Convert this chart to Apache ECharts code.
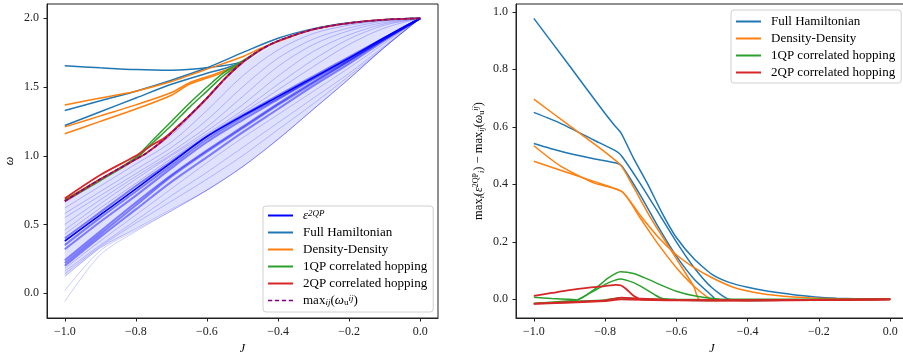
<!DOCTYPE html>
<html>
<head>
<meta charset="utf-8">
<script src="https://cdn.jsdelivr.net/npm/echarts@6.0.0/dist/echarts.min.js"></script>
<style>
  html, body { margin: 0; padding: 0; background: #fff; }
  #main { width: 903px; height: 354px; }
</style>
</head>
<body>
<div id="main"></div>
<script>
// J grid used by the two-particle continuum curves
var J = [-1, -0.9, -0.8, -0.7, -0.6, -0.5, -0.4, -0.3, -0.2, -0.1, 0];

// eps^2QP continuum (top envelope, upper fan, dense band, lower fan)
var fanTop = [0.66, 0.82, 0.97, 1.15, 1.41, 1.67, 1.83, 1.92, 1.96, 1.99, 2.0];
var fanUpper = [
  [0.62, 0.78, 0.94, 1.10, 1.33, 1.58, 1.77, 1.89, 1.95, 1.985, 2.0],
  [0.58, 0.74, 0.90, 1.06, 1.26, 1.50, 1.71, 1.85, 1.93, 1.98, 2.0],
  [0.55, 0.71, 0.87, 1.03, 1.21, 1.43, 1.65, 1.81, 1.91, 1.97, 2.0],
  [0.50, 0.68, 0.85, 1.01, 1.18, 1.37, 1.58, 1.76, 1.88, 1.96, 2.0],
  [0.46, 0.65, 0.83, 1.00, 1.16, 1.33, 1.52, 1.70, 1.85, 1.95, 2.0],
  [0.43, 0.62, 0.80, 0.98, 1.15, 1.31, 1.48, 1.65, 1.81, 1.93, 2.0]
];
var epsLine = [0.38, 0.57, 0.76, 0.95, 1.14, 1.29, 1.43, 1.57, 1.71, 1.86, 2.0];
var fanDense = [
  [0.40, 0.59, 0.78, 0.96, 1.14, 1.295, 1.44, 1.58, 1.72, 1.86, 2.0],
  [0.35, 0.55, 0.74, 0.93, 1.12, 1.28, 1.42, 1.565, 1.71, 1.855, 2.0],
  [0.32, 0.52, 0.71, 0.91, 1.10, 1.26, 1.41, 1.56, 1.70, 1.85, 2.0],
  [0.24, 0.45, 0.66, 0.86, 1.04, 1.21, 1.38, 1.54, 1.69, 1.85, 2.0],
  [0.22, 0.43, 0.64, 0.85, 1.03, 1.20, 1.37, 1.53, 1.69, 1.85, 2.0],
  [0.20, 0.41, 0.61, 0.81, 0.99, 1.17, 1.34, 1.51, 1.67, 1.84, 2.0]
];
var fanLower = [
  [0.18, 0.38, 0.57, 0.76, 0.95, 1.13, 1.30, 1.47, 1.64, 1.82, 2.0],
  [0.16, 0.35, 0.53, 0.71, 0.88, 1.06, 1.24, 1.42, 1.60, 1.80, 2.0],
  [0.14, 0.34, 0.51, 0.67, 0.83, 1.00, 1.19, 1.38, 1.58, 1.79, 2.0],
  [0.12, 0.33, 0.47, 0.61, 0.75, 0.92, 1.12, 1.34, 1.56, 1.79, 2.0],
  [0.02, 0.31, 0.46, 0.60, 0.75, 0.92, 1.12, 1.34, 1.56, 1.79, 2.0],
  [-0.06, 0.28, 0.45, 0.60, 0.75, 0.92, 1.12, 1.34, 1.56, 1.79, 2.0]
];
var fanEdge = fanLower[3];

// left panel, [J, omega]
var maxW = [[-1,0.67],[-0.9,0.83],[-0.8,0.975],[-0.77,1.02],[-0.72,1.12],[-0.65,1.29],[-0.6,1.42],[-0.55,1.56],[-0.5,1.68],[-0.45,1.77],[-0.4,1.835],[-0.3,1.92],[-0.2,1.965],[-0.1,1.99],[0,2.0]];
var fhLeft = [
  [[-1,1.33],[-0.9,1.40],[-0.8,1.47],[-0.7,1.55],[-0.6,1.64],[-0.5,1.75],[-0.4,1.855],[-0.3,1.925],[-0.2,1.968],[-0.1,1.99],[0,2.0]],
  [[-1,1.655],[-0.9,1.64],[-0.8,1.627],[-0.7,1.622],[-0.6,1.64],[-0.5,1.685],[-0.45,1.77],[-0.4,1.835],[-0.3,1.92],[-0.2,1.965],[-0.1,1.99],[0,2.0]],
  [[-1,1.22],[-0.9,1.32],[-0.8,1.42],[-0.7,1.52],[-0.6,1.6],[-0.55,1.635],[-0.5,1.68]]
];
var ddLeft = [
  [[-1,1.37],[-0.9,1.42],[-0.8,1.47],[-0.7,1.54],[-0.65,1.585],[-0.6,1.63],[-0.5,1.72],[-0.45,1.78],[-0.4,1.83],[-0.35,1.88]],
  [[-1,1.21],[-0.9,1.29],[-0.8,1.37],[-0.7,1.46],[-0.65,1.53],[-0.6,1.575],[-0.55,1.62],[-0.5,1.68]],
  [[-1,1.16],[-0.9,1.25],[-0.8,1.34],[-0.7,1.44],[-0.65,1.52],[-0.6,1.565],[-0.55,1.61],[-0.5,1.68]]
];
var qp1Left = [
  [[-1,0.68],[-0.9,0.83],[-0.84,0.92],[-0.8,0.99],[-0.75,1.12],[-0.7,1.25],[-0.65,1.38],[-0.6,1.5],[-0.55,1.61],[-0.5,1.69],[-0.45,1.77]],
  [[-1,0.67],[-0.9,0.82],[-0.8,0.98],[-0.75,1.1],[-0.7,1.22],[-0.65,1.35],[-0.6,1.47],[-0.55,1.59],[-0.5,1.68]]
];
var qp2Left = [
  [[-1,0.69],[-0.9,0.86],[-0.8,1.0],[-0.76,1.07],[-0.72,1.13],[-0.68,1.22],[-0.65,1.29],[-0.6,1.42],[-0.55,1.56],[-0.5,1.68]],
  maxW
];

// right panel, [J, difference]
var fhRight = [
  [[-1,0.977],[-0.9,0.812],[-0.8,0.646],[-0.775,0.607],[-0.755,0.578],[-0.72,0.49],[-0.68,0.40],[-0.64,0.30],[-0.6,0.215],[-0.55,0.14],[-0.5,0.087],[-0.45,0.058],[-0.4,0.042],[-0.35,0.03],[-0.3,0.021],[-0.25,0.013],[-0.2,0.007],[-0.15,0.004],[-0.1,0.002],[0,0]],
  [[-1,0.65],[-0.925,0.612],[-0.832,0.554],[-0.766,0.513],[-0.752,0.496],[-0.7,0.40],[-0.65,0.30],[-0.6,0.20],[-0.55,0.11],[-0.5,0.04],[-0.453,0.0],[-0.4,-0.004],[-0.2,-0.003],[0,0]],
  [[-1,0.542],[-0.925,0.515],[-0.832,0.489],[-0.766,0.473],[-0.752,0.462],[-0.7,0.36],[-0.65,0.25],[-0.6,0.15],[-0.55,0.07],[-0.5,0.012],[-0.49,0.0],[-0.4,-0.004],[-0.2,-0.003],[0,0]]
];
var ddRight = [
  [[-1,0.696],[-0.9,0.604],[-0.8,0.512],[-0.755,0.465],[-0.72,0.39],[-0.68,0.30],[-0.645,0.229],[-0.598,0.137],[-0.551,0.044],[-0.537,0.0],[-0.5,-0.004],[-0.3,-0.003],[0,0]],
  [[-1,0.534],[-0.925,0.463],[-0.832,0.405],[-0.752,0.374],[-0.7,0.28],[-0.65,0.19],[-0.6,0.11],[-0.55,0.045],[-0.5,0.0],[-0.4,-0.004],[0,0]],
  [[-1,0.48],[-0.925,0.449],[-0.832,0.41],[-0.752,0.374],[-0.7,0.29],[-0.65,0.215],[-0.6,0.155],[-0.55,0.11],[-0.5,0.075],[-0.44,0.042],[-0.38,0.024],[-0.33,0.015],[-0.27,0.008],[-0.2,0.004],[-0.1,0.001],[0,0]]
];
var qp1Right = [
  [[-1,0.007],[-0.95,0.003],[-0.9,0.0],[-0.878,-0.002],[-0.83,0.035],[-0.79,0.075],[-0.757,0.096],[-0.72,0.09],[-0.68,0.07],[-0.64,0.048],[-0.6,0.028],[-0.55,0.012],[-0.5,0.003],[-0.45,0],[0,0]],
  [[-1,-0.015],[-0.95,-0.01],[-0.9,-0.005],[-0.878,-0.002],[-0.83,0.03],[-0.79,0.058],[-0.757,0.071],[-0.72,0.058],[-0.69,0.038],[-0.66,0.015],[-0.64,0.003],[-0.6,0.0],[-0.4,-0.002],[0,0]],
  [[-1,-0.015],[-0.9,-0.008],[-0.8,-0.002],[-0.755,0.005],[-0.7,0.002],[-0.6,-0.002],[-0.5,-0.004],[-0.3,-0.003],[0,0]]
];
var qp2Right = [
  [[-1,0.012],[-0.95,0.022],[-0.9,0.032],[-0.85,0.04],[-0.8,0.046],[-0.77,0.05],[-0.755,0.048],[-0.74,0.035],[-0.72,0.012],[-0.7,0.0],[-0.6,-0.003],[-0.4,-0.004],[0,0]],
  [[-1,-0.015],[-0.9,-0.01],[-0.8,-0.004],[-0.755,0.006],[-0.7,0.002],[-0.6,-0.003],[-0.4,-0.004],[0,0]],
  [[-1,-0.016],[-0.8,-0.006],[-0.755,0.0],[-0.6,-0.004],[-0.4,-0.004],[0,0]]
];

// tick labels
var xTicks = [-1, -0.8, -0.6, -0.4, -0.2, 0];
var yTicksLeft = [0, 0.5, 1.0, 1.5, 2.0];
var yTicksRight = [0, 0.2, 0.4, 0.6, 0.8, 1.0];

var FONT = 'Liberation Serif';
var C_EPS = '#0000ff', C_FH = '#1f77b4', C_DD = '#ff7f0e', C_1QP = '#2ca02c', C_2QP = '#d62728', C_MAX = '#800080';

var chart = echarts.init(document.getElementById('main'));

function fmt(v) {
  return v.toFixed(1).replace('-', '\u2212');
}
var nameRich = {
  it: { fontStyle: 'italic', fontFamily: FONT, fontSize: 12 },
  sp: { fontFamily: FONT, fontSize: 8, verticalAlign: 'top', lineHeight: 14 },
  spi: { fontFamily: FONT, fontStyle: 'italic', fontSize: 8, verticalAlign: 'top', lineHeight: 14 },
  sb: { fontFamily: FONT, fontStyle: 'italic', fontSize: 8, verticalAlign: 'bottom', lineHeight: 14 },
  sbr: { fontFamily: FONT, fontSize: 8, verticalAlign: 'bottom', lineHeight: 14 }
};
function xAxisOf(gi) {
  return {
    type: 'value', gridIndex: gi, min: -1.05, max: 0.05,
    name: '{it|J}', nameLocation: 'middle', nameGap: 24,
    nameTextStyle: { fontFamily: FONT, fontSize: 12, color: '#000', rich: nameRich },
    axisLine: { show: true, onZero: false, lineStyle: { color: '#222', width: 1 } },
    axisTick: { show: true, inside: false, length: 3.5, lineStyle: { color: '#222' }, customValues: xTicks },
    axisLabel: { fontFamily: FONT, fontSize: 12, color: '#222', margin: 8, customValues: xTicks, formatter: fmt },
    splitLine: { show: false }
  };
}
function yAxisOf(gi, lo, hi, ticks, name, gap) {
  return {
    type: 'value', gridIndex: gi, min: lo, max: hi,
    name: name, nameLocation: 'middle', nameGap: gap,
    nameTextStyle: { fontFamily: FONT, fontSize: 12.5, color: '#000', lineHeight: 14, rich: nameRich },
    axisLine: { show: true, onZero: false, lineStyle: { color: '#222', width: 1 } },
    axisTick: { show: true, inside: false, length: 3.5, lineStyle: { color: '#222' }, customValues: ticks },
    axisLabel: { fontFamily: FONT, fontSize: 12, color: '#222', margin: 8, customValues: ticks, formatter: fmt },
    splitLine: { show: false }
  };
}

var series = [];
function addLine(name, gi, data, color, width, opacity, extra) {
  var s = {
    name: name, type: 'line', xAxisIndex: gi, yAxisIndex: gi,
    data: data, showSymbol: false, symbol: 'none', smooth: 0.3,
    silent: true, animation: false,
    lineStyle: { color: color, width: width, opacity: opacity },
    itemStyle: { color: color },
    emphasis: { disabled: true }
  };
  if (extra) for (var k in extra) s[k] = extra[k];
  series.push(s);
}
function onGrid(arr) {
  return J.map(function (x, k) { return [x, arr[k]]; });
}

// light wash of the continuum between its lower edge and the top envelope
series.push({
  name: 'band', type: 'custom', xAxisIndex: 0, yAxisIndex: 0, silent: true,
  data: [[-0.5, 1]],
  renderItem: function (params, api) {
    var pts = [];
    for (var k = 0; k < J.length; k++) pts.push(api.coord([J[k], fanTop[k]]));
    for (var m = J.length - 1; m >= 0; m--) pts.push(api.coord([J[m], fanEdge[m]]));
    return { type: 'polygon', shape: { points: pts }, style: { fill: 'rgba(0,0,255,0.12)' } };
  }
});

fanUpper.forEach(function (a) { addLine('fan', 0, onGrid(a), C_EPS, 1, 0.22); });
fanLower.forEach(function (a) { addLine('fan', 0, onGrid(a), C_EPS, 1, 0.2); });
fanDense.forEach(function (a) { addLine('fan', 0, onGrid(a), C_EPS, 2, 0.45); });
addLine('fan', 0, onGrid(fanTop), C_EPS, 1, 0.25);
addLine('eps', 0, onGrid(epsLine), C_EPS, 1.6, 1);

fhLeft.forEach(function (d) { addLine('Full Hamiltonian', 0, d, C_FH, 1.5, 1); });
ddLeft.forEach(function (d) { addLine('Density-Density', 0, d, C_DD, 1.5, 1); });
qp1Left.forEach(function (d) { addLine('1QP correlated hopping', 0, d, C_1QP, 1.5, 1); });
qp2Left.forEach(function (d) { addLine('2QP correlated hopping', 0, d, C_2QP, 1.8, 1); });
addLine('max', 0, maxW, C_MAX, 1.5, 1, { z: 5 });
series[series.length - 1].lineStyle.type = [4, 2.5];

fhRight.forEach(function (d) { addLine('Full Hamiltonian', 1, d, C_FH, 1.5, 1, { smooth: 0.2 }); });
ddRight.forEach(function (d) { addLine('Density-Density', 1, d, C_DD, 1.5, 1, { smooth: 0.2 }); });
qp1Right.forEach(function (d) { addLine('1QP correlated hopping', 1, d, C_1QP, 1.5, 1, { smooth: 0.2 }); });
qp2Right.forEach(function (d) { addLine('2QP correlated hopping', 1, d, C_2QP, 1.8, 1, { smooth: 0.2 }); });

var legendRich = {
  it: { fontStyle: 'italic', fontFamily: FONT, fontSize: 13, color: '#000', lineHeight: 13 },
  sp: { fontStyle: 'italic', fontFamily: FONT, fontSize: 9, color: '#000', verticalAlign: 'top', lineHeight: 13 },
  sb: { fontStyle: 'italic', fontFamily: FONT, fontSize: 9, color: '#000', verticalAlign: 'bottom', lineHeight: 13 },
  sbr: { fontFamily: FONT, fontSize: 9, color: '#000', verticalAlign: 'bottom', lineHeight: 13 }
};
var legendLabels = {
  'eps': '{it|\u03b5}{sp|2QP}',
  'max': 'max{sb|ij}({it|\u03c9}{sbr|u}{sp|ij})'
};
var DASH_ICON = 'path://M0,0h4v1.5h-4zM6.5,0h4v1.5h-4zM13,0h4v1.5h-4zM19.5,0h4v1.5h-4z';
function legendOf(pos, names, pad) {
  var l = {
    data: names.map(function (n) {
      if (n === 'max') return { name: n, icon: DASH_ICON, itemStyle: { color: C_MAX } };
      return { name: n, icon: 'rect' };
    }),
    orient: 'vertical', selectedMode: false,
    itemWidth: 25, itemHeight: 2, itemGap: 4,
    padding: pad,
    backgroundColor: 'rgba(255,255,255,0.85)',
    borderColor: '#d0d0d0', borderWidth: 1, borderRadius: 3,
    textStyle: { fontFamily: FONT, fontSize: 13, color: '#000', lineHeight: 13, padding: [0, 0, 0, 5], rich: legendRich },
    formatter: function (n) { return legendLabels[n] || n; }
  };
  for (var k in pos) l[k] = pos[k];
  return l;
}

var option = {
  backgroundColor: '#fff',
  animation: false,
  grid: [
    { left: 47, right: 465, top: 4, bottom: 36, outerBoundsMode: 'none', containLabel: false, show: true, borderColor: '#222', borderWidth: 1, backgroundColor: 'transparent' },
    { left: 516, right: -5, top: 4, bottom: 36, outerBoundsMode: 'none', containLabel: false, show: true, borderColor: '#222', borderWidth: 1, backgroundColor: 'transparent' }
  ],
  xAxis: [xAxisOf(0), xAxisOf(1)],
  yAxis: [
    yAxisOf(0, -0.18, 2.104, yTicksLeft, '{it|\u03c9}', 30),
    yAxisOf(1, -0.065, 1.027, yTicksRight,
      'max{sb|i}({it|\u03b5}{sp|2QP}{sb|i}) \u2212 max{sb|ij}({it|\u03c9}{sbr|u}{spi|ij})', 30)
  ],
  legend: [
    legendOf({ left: 263, top: 206 }, ['eps', 'Full Hamiltonian', 'Density-Density', '1QP correlated hopping', '2QP correlated hopping', 'max'], [3, 6, 5, 5]),
    legendOf({ left: 731, top: 10 }, ['Full Hamiltonian', 'Density-Density', '1QP correlated hopping', '2QP correlated hopping'], [5, 6, 4, 5])
  ],
  series: series
};

chart.setOption(option);
</script>
</body>
</html>
